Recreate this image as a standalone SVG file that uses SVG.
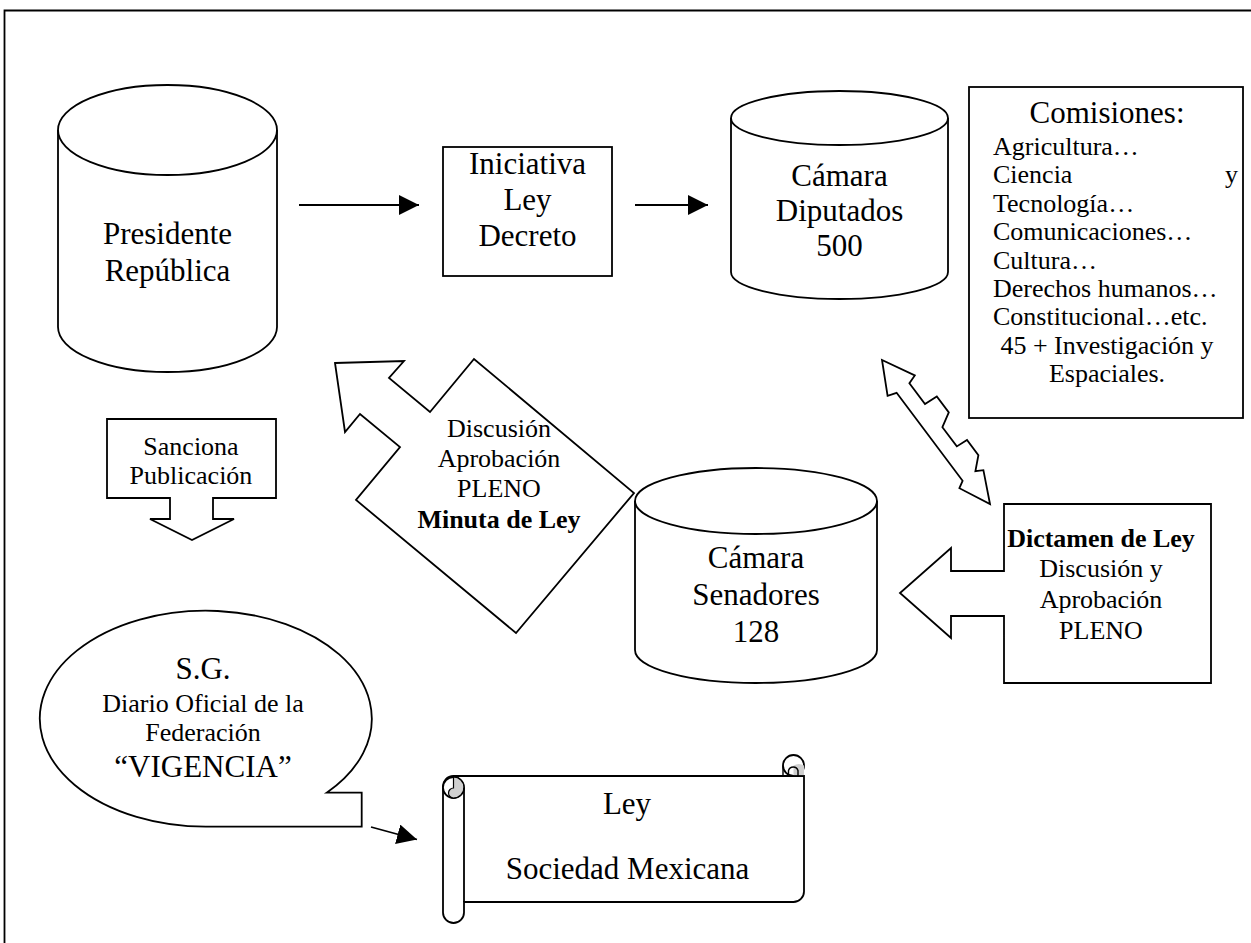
<svg xmlns="http://www.w3.org/2000/svg" width="1251" height="943" viewBox="0 0 1251 943">
<style>
.s{fill:#fff;stroke:#000;stroke-width:1.8;stroke-linejoin:miter}
.n{fill:none;stroke:#000;stroke-width:1.8}
.t{font-family:"Liberation Serif","Times New Roman",serif;fill:#000;text-anchor:middle}
.l{font-size:31px}
.m{font-size:26px}
.b{font-weight:bold}
.c{font-family:"Liberation Serif","Times New Roman",serif;fill:#000;font-size:26px}
</style>
<defs>
<marker id="ah" markerWidth="20" markerHeight="20" refX="20" refY="10" orient="auto" markerUnits="userSpaceOnUse">
<path d="M0,0 L20,10 L0,20 Z" fill="#000"/>
</marker>
</defs>
<rect width="1251" height="943" fill="#fff"/>
<g id="frame"><path class="n" d="M4.5,943 V10.5 H1251"/></g>

<g id="presidente">
<path class="s" d="M58,130 A109.5,45 0 0 1 277,130 V327 A109.5,45 0 0 1 58,327 Z"/>
<path class="n" d="M58,130 A109.5,45 0 0 0 277,130"/>
<text class="t l" x="167.5" y="244">Presidente</text>
<text class="t l" x="167.5" y="281">República</text>
</g>

<g id="iniciativa">
<rect class="s" x="443" y="147" width="169" height="129"/>
<text class="t l" x="527.5" y="174">Iniciativa</text>
<text class="t l" x="527.5" y="210">Ley</text>
<text class="t l" x="527.5" y="246">Decreto</text>
</g>

<g id="diputados">
<path class="s" d="M731,118 A108.5,27 0 0 1 948,118 V272 A108.5,27 0 0 1 731,272 Z"/>
<path class="n" d="M731,118 A108.5,27 0 0 0 948,118"/>
<text class="t l" x="839.5" y="186">Cámara</text>
<text class="t l" x="839.5" y="221">Diputados</text>
<text class="t l" x="839.5" y="256">500</text>
</g>

<g id="comisiones">
<rect class="s" x="969" y="87" width="274" height="331"/>
<text class="t l" x="1107" y="123">Comisiones:</text>
<text class="c" x="993" y="155">Agricultura…</text>
<text class="c" x="993" y="183.4">Ciencia</text>
<text class="c" x="1238" y="183.4" text-anchor="end">y</text>
<text class="c" x="993" y="211.8">Tecnología…</text>
<text class="c" x="993" y="240.2">Comunicaciones…</text>
<text class="c" x="993" y="268.6">Cultura…</text>
<text class="c" x="993" y="297">Derechos humanos…</text>
<text class="c" x="993" y="325.4">Constitucional…etc.</text>
<text class="c" x="1107" y="353.8" text-anchor="middle">45 + Investigación y</text>
<text class="c" x="1107" y="382.2" text-anchor="middle">Espaciales.</text>
</g>

<g id="minuta">
<path class="s" d="M335,363 L404,361 L389,378 L430,412 L474,359 L634,493 L516,633 L356,500 L400,447 L360,414 L345,432 Z"/>
<text class="t m" x="499" y="437">Discusión</text>
<text class="t m" x="499" y="467">Aprobación</text>
<text class="t m" x="499" y="497">PLENO</text>
<text class="t m b" x="499" y="528">Minuta de Ley</text>
</g>

<g id="sanciona">
<path class="s" d="M107,419 H276 V498 H213 V519 H234 L192,540 L150,519 H170 V498 H107 Z"/>
<text class="t m" x="191" y="455">Sanciona</text>
<text class="t m" x="191" y="484">Publicación</text>
</g>

<g id="senadores">
<path class="s" d="M635,501 A121,33 0 0 1 877,501 V650 A121,33 0 0 1 635,650 Z"/>
<path class="n" d="M635,501 A121,33 0 0 0 877,501"/>
<text class="t l" x="756" y="568">Cámara</text>
<text class="t l" x="756" y="605">Senadores</text>
<text class="t l" x="756" y="642">128</text>
</g>

<g id="dictamen">
<path class="s" d="M1004,504 H1211 V683 H1004 V616 H951 V638 L900,593 L951,548 V571 H1004 Z"/>
<text class="t m b" x="1101" y="547">Dictamen de Ley</text>
<text class="t m" x="1101" y="577">Discusión y</text>
<text class="t m" x="1101" y="608">Aprobación</text>
<text class="t m" x="1101" y="639">PLENO</text>
</g>

<g id="doble-flecha">
<path class="s" d="M990,504 L983.4,470.2 L975.4,471.2 L978.4,455.2 L967,440 L956.8,446.4 L942.4,427.2 L948.8,412.4 L936.8,396.4 L925,404 L909.4,383.2 L914.8,375.4 L882,360 L887.6,395.8 L896.6,392.8 L962.6,480.8 L959.4,488.2 Z"/>
</g>

<g id="sg">
<path class="s" d="M326.7,792.7 H361.7 V826.7 H206 A166,108 0 1 1 326.7,792.7 Z"/>
<text class="t l" x="203" y="679">S.G.</text>
<text class="t m" x="203" y="712">Diario Oficial de la</text>
<text class="t m" x="203" y="741">Federación</text>
<text class="t l" x="203" y="777">“VIGENCIA”</text>
</g>

<g id="ley">
<path class="s" d="M453.5,776 H804 V891.5 A10.5,10.5 0 0 1 793.5,902 H464 V912.5 A10.5,10.5 0 0 1 443,912.5 V787.5 A10.5,10.5 0 0 1 453.5,776 Z"/>
<circle class="s" cx="453.5" cy="787.5" r="10.5"/>
<path d="M453.5,777 A10.5,10.5 0 0 1 453.5,798 A5,5 0 0 1 453.5,788 Z" fill="#d0d0d0" stroke="#000" stroke-width="1.2"/>
<path class="n" d="M464,787.5 V902"/>
<circle class="s" cx="793.5" cy="765.5" r="10.5"/>
<path d="M793.5,765.5 A10.5,10.5 0 0 1 804,765.5 V776 H793.5 Z" fill="#d0d0d0" stroke="none"/>
<path d="M783,765.5 V776 M788.5,776 V770.5 A5,5 0 0 1 798,770.5 V776" fill="none" stroke="#000" stroke-width="1.4"/>
<path class="n" d="M783,776 H804"/>
<text class="t l" x="627" y="814">Ley</text>
<text class="t l" x="627.5" y="879">Sociedad Mexicana</text>
</g>

<g id="conectores">
<line class="n" x1="299" y1="205" x2="419" y2="205" marker-end="url(#ah)"/>
<line class="n" x1="635" y1="205" x2="708" y2="205" marker-end="url(#ah)"/>
<line class="n" x1="371" y1="827" x2="417" y2="839.5" marker-end="url(#ah)"/>
</g>
</svg>
